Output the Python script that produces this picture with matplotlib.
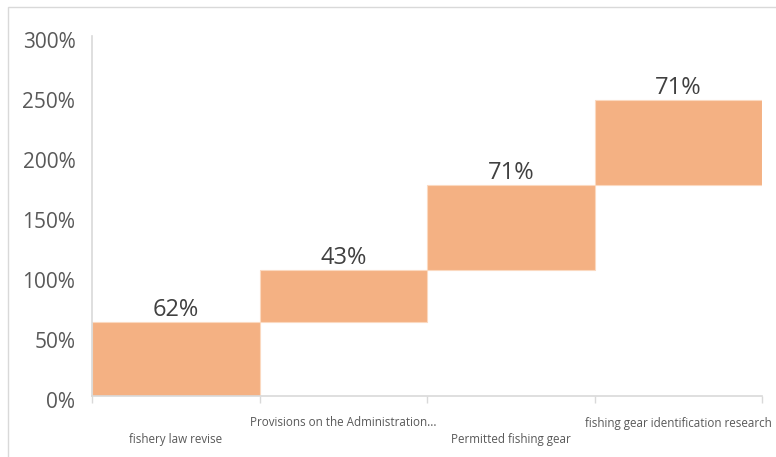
import matplotlib
matplotlib.use("Agg")
import matplotlib.pyplot as plt
from matplotlib.patches import Rectangle
from matplotlib.ticker import FuncFormatter, FixedLocator
from matplotlib.transforms import ScaledTranslation
import numpy as np

categories = ["fishery law revise", "Provisions on the Administration...",
              "Permitted fishing gear", "fishing gear identification research"]
values = [62, 43, 71, 71]
labels = ["62%", "43%", "71%", "71%"]
yticks = [0, 50, 100, 150, 200, 250, 300]

plt.rcParams['font.family'] = ['Open Sans', 'DejaVu Sans']

W, H = 776, 457
fig = plt.figure(figsize=(W / 100, H / 100), dpi=100)
fig.patches.append(Rectangle((8 / W, -0.01), 1.2, 1 - 7 / H + 0.01, transform=fig.transFigure,
                             fill=False, edgecolor="#d9d9d9", linewidth=1.0))
ax = fig.add_axes([92 / W, 1 - 396 / H, (762 - 92) / W, (396 - 36) / H])

bottoms = np.concatenate([[0], np.cumsum(values)[:-1]])
x = np.arange(len(values))
ax.bar(x, values, bottom=bottoms, width=1.0, color="#F4B183", edgecolor="#FBD9C0", linewidth=0.8)

for xi, b, v, lab in zip(x, bottoms, values, labels):
    ax.annotate(lab, (xi, b + v), xytext=(0, 0), textcoords="offset points",
                ha="center", va="bottom", fontsize=17, color="#404040")

ax.set_xlim(-0.5, len(values) - 0.5)
ax.set_ylim(0, 300)
ax.set_yticks(yticks)
ax.yaxis.set_major_formatter(FuncFormatter(lambda v, p: f"{int(v)}%"))
ax.tick_params(axis="y", length=0, pad=12, labelsize=15, labelcolor="#595959")
off = ScaledTranslation(0, -4 / 100, fig.dpi_scale_trans)
for lbl in ax.get_yticklabels():
    lbl.set_transform(lbl.get_transform() + off)
ax.xaxis.set_major_locator(FixedLocator(np.arange(-0.5, len(values), 1.0)))
ax.set_xticklabels([])
ax.tick_params(axis="x", length=5, width=1, color="#d9d9d9", direction="out")
for s in ["top", "right"]:
    ax.spines[s].set_visible(False)
for s in ["left", "bottom"]:
    ax.spines[s].set_color("#d9d9d9")
    ax.spines[s].set_linewidth(1.2)

for i, c in enumerate(categories):
    ypix = 440 if i % 2 == 0 else 423
    fig.text((92 + (i + 0.5) * (670 / 4)) / W, 1 - ypix / H, c, ha="center", va="center",
             fontsize=8.4, color="#595959")

fig.savefig("out.png", dpi=100)
